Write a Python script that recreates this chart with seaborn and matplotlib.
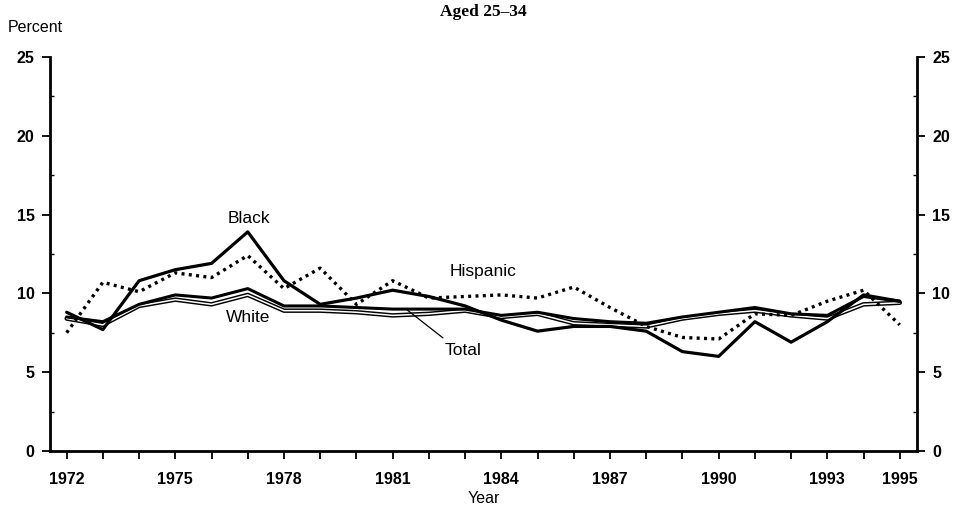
import numpy as np
import pandas as pd
import matplotlib
matplotlib.use("Agg")
import matplotlib.pyplot as plt
import seaborn as sns
from matplotlib.ticker import MultipleLocator

######################################## data ########################################
years = list(range(1972, 1996))

total = [8.5, 8.2, 9.3, 9.9, 9.7, 10.3, 9.2, 9.2, 9.1, 9.0, 9.0, 9.0,
         8.6, 8.8, 8.4, 8.2, 8.1, 8.5, 8.8, 9.1, 8.7, 8.6, 9.8, 9.5]
white = [8.4, 8.0, 9.2, 9.6, 9.3, 9.9, 8.9, 8.9, 8.8, 8.6, 8.7, 8.9,
         8.5, 8.7, 8.1, 8.0, 7.9, 8.4, 8.7, 8.9, 8.6, 8.4, 9.3, 9.4]
black = [8.8, 7.7, 10.8, 11.5, 11.9, 13.9, 10.8, 9.3, 9.7, 10.2, 9.8, 9.2,
         8.3, 7.6, 7.9, 7.9, 7.6, 6.3, 6.0, 8.2, 6.9, 8.2, 9.9, 9.5]
hispanic = [7.5, 10.7, 10.1, 11.3, 11.0, 12.4, 10.3, 11.6, 9.3, 10.8, 9.7, 9.8,
            9.9, 9.7, 10.4, 9.1, 7.9, 7.2, 7.1, 8.7, 8.6, 9.5, 10.2, 8.0]

x_labels = [1972, 1975, 1978, 1981, 1984, 1987, 1990, 1993, 1995]
y_ticks = [0, 5, 10, 15, 20, 25]

df = pd.DataFrame({'Year': years, 'Total': total, 'White': white,
                   'Black': black, 'Hispanic': hispanic})

######################################## plot ########################################
sns.set_style("ticks")
plt.rcParams['font.family'] = ['Liberation Sans', 'DejaVu Sans']
plt.rcParams['text.color'] = 'black'
plt.rcParams['axes.labelcolor'] = 'black'
plt.rcParams['xtick.color'] = 'black'
plt.rcParams['ytick.color'] = 'black'
plt.rcParams['axes.edgecolor'] = 'black'

fig = plt.figure(figsize=(9.61, 5.13), dpi=100)
ax = fig.add_axes([0.052, 0.121, 0.902, 0.768])

# white series: outlined double line
sns.lineplot(data=df, x='Year', y='White', ax=ax, color='black', linewidth=3.2)
sns.lineplot(data=df, x='Year', y='White', ax=ax, color='white', linewidth=1.1)
# total
sns.lineplot(data=df, x='Year', y='Total', ax=ax, color='black', linewidth=2.2)
# black
sns.lineplot(data=df, x='Year', y='Black', ax=ax, color='black', linewidth=2.3)
# hispanic dotted
sns.lineplot(data=df, x='Year', y='Hispanic', ax=ax, color='black', linewidth=2.4,
             linestyle=(0, (0.9, 1.3)))

ax.set_xlim(1971.54, 1995.47)
ax.set_ylim(0, 25)

ax.set_xticks(years)
ax.set_xticklabels([str(y) if y in x_labels else '' for y in years])
ax.set_yticks(y_ticks)
ax.yaxis.set_minor_locator(MultipleLocator(2.5))

for side in ['left', 'bottom', 'right']:
    ax.spines[side].set_linewidth(2.0)
ax.spines['top'].set_visible(False)

ax.tick_params(axis='both', which='major', direction='out', length=6, width=1.3,
               labelsize=11.5)
ax.tick_params(axis='y', which='major', right=True, labelright=True, pad=5)
ax.tick_params(axis='y', which='minor', left=True, right=True, direction='in',
               length=3, width=1.0)
ax.tick_params(axis='x', which='major', pad=9)
for lbl in ax.get_xticklabels() + ax.get_yticklabels():
    lbl.set_fontweight('bold')

ax.set_xlabel('Year', fontsize=11.5, labelpad=3)
ax.set_ylabel('')

# series labels
ax.text(1977.03, 14.78, 'Black', fontsize=12.5, ha='center', va='center')
ax.text(1977.0, 8.44, 'White', fontsize=12.5, ha='center', va='center')
ax.text(1983.5, 11.36, 'Hispanic', fontsize=12.5, ha='center', va='center')
ax.text(1982.94, 6.35, 'Total', fontsize=12.5, ha='center', va='center')
ax.plot([1982.39, 1981.4], [7.17, 8.95], color='black', linewidth=0.9)

fig.text(0.008, 0.947, 'Percent', fontsize=11.5, ha='left', va='center')
fig.text(0.503, 0.976, 'Aged 25\u201334', fontsize=12.5, fontweight='bold',
         family=['Liberation Serif', 'DejaVu Serif'], ha='center', va='center')

plt.savefig('out.png', dpi=100)
